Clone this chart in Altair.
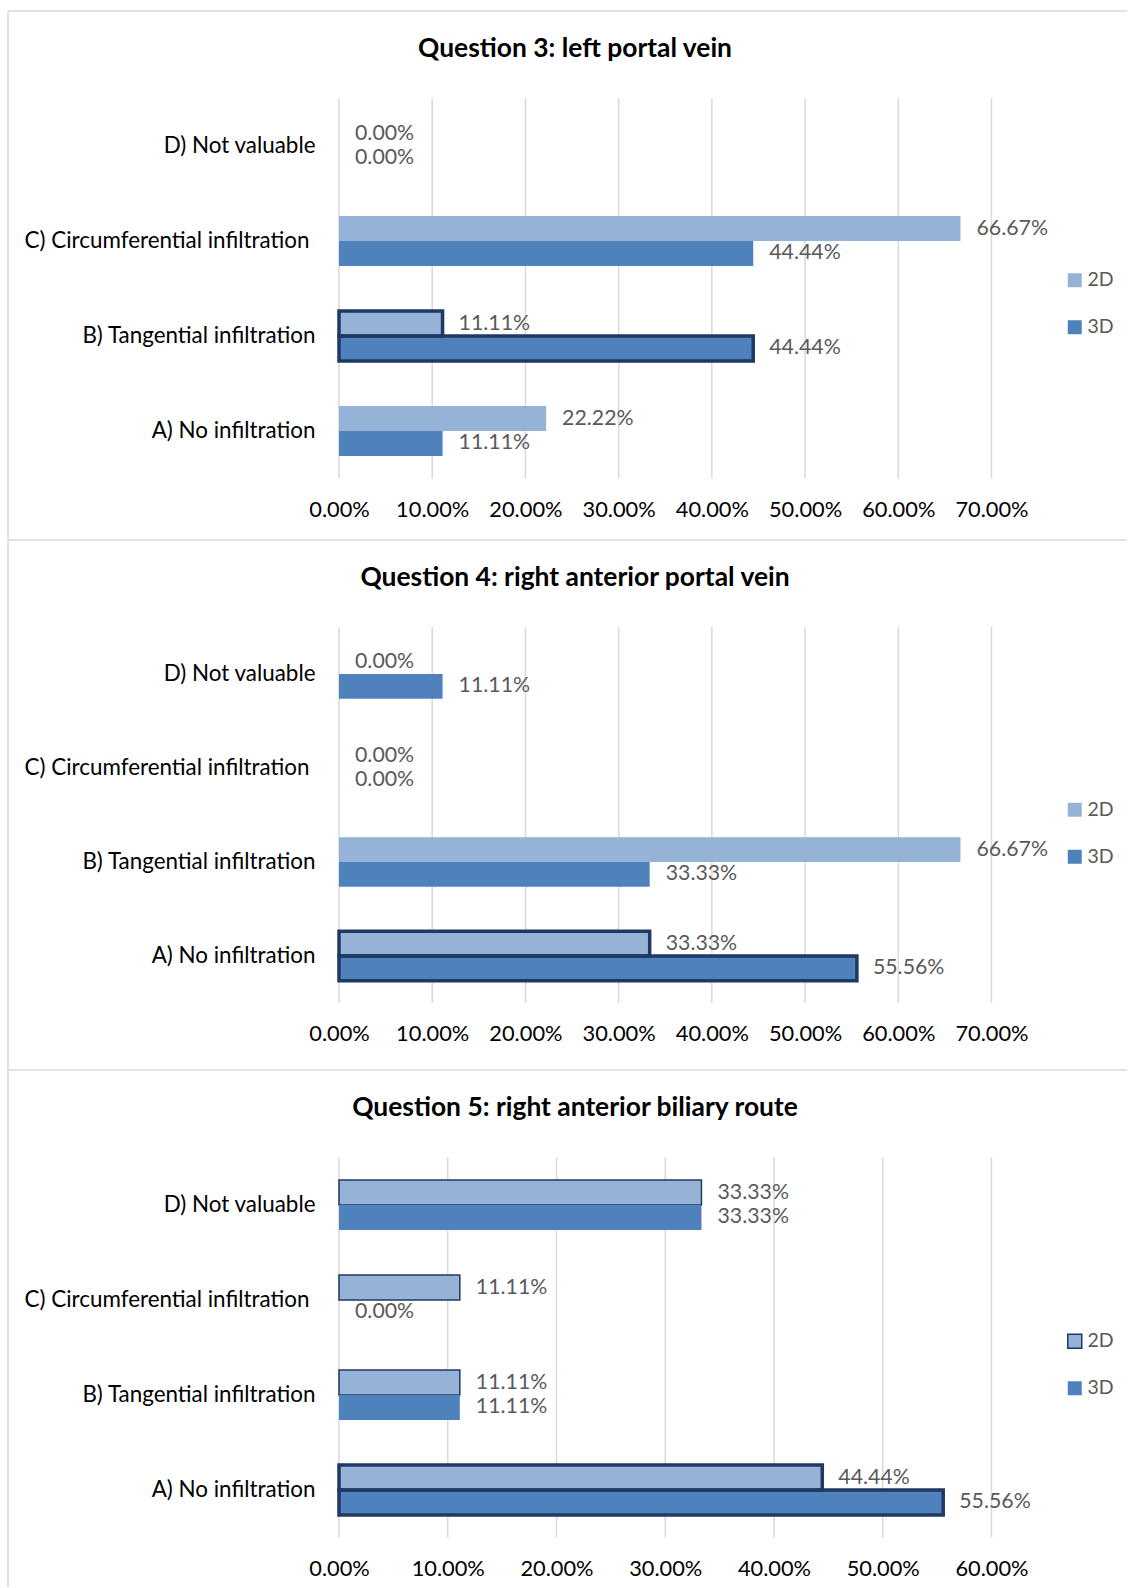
import altair as alt
import pandas as pd

# ---- data -------------------------------------------------------------
CATEGORIES = [
    "D) Not valuable",
    "C) Circumferential infiltration",
    "B) Tangential infiltration",
    "A) No infiltration",
]
SERIES = ["2D", "3D"]

Q3_TITLE = "Question 3: left portal vein"
Q3_2D = [0.0, 0.6667, 0.1111, 0.2222]
Q3_3D = [0.0, 0.4444, 0.4444, 0.1111]
Q3_TICKS = [0.0, 0.1, 0.2, 0.3, 0.4, 0.5, 0.6, 0.7]

Q4_TITLE = "Question 4: right anterior portal vein"
Q4_2D = [0.0, 0.0, 0.6667, 0.3333]
Q4_3D = [0.1111, 0.0, 0.3333, 0.5556]
Q4_TICKS = [0.0, 0.1, 0.2, 0.3, 0.4, 0.5, 0.6, 0.7]

Q5_TITLE = "Question 5: right anterior biliary route"
Q5_2D = [0.3333, 0.1111, 0.1111, 0.4444]
Q5_3D = [0.3333, 0.0, 0.1111, 0.5556]
Q5_TICKS = [0.0, 0.1, 0.2, 0.3, 0.4, 0.5, 0.6]

# ---- style ------------------------------------------------------------
FONT = "Lato"
LIGHT = "#95B3D7"
MID = "#4F81BD"
NAVY = "#1F3864"
GRID = "#D9D9D9"
LABEL_GREY = "#595959"

PANEL_W = 1119
X_RANGE = [331, 983.5]          # pixel span of the value axis inside a panel
AXIS_X = 331                    # where the category axis sits
LONG_LABEL = CATEGORIES[1]      # the widest category label sits a bit further left


def panel(title, v2d, v3d, ticks, highlight, height, y_range, legend_y,
          outlined_2d=False):
    df = pd.DataFrame({
        "category": CATEGORIES * 2,
        "series": [SERIES[0]] * len(CATEGORIES) + [SERIES[1]] * len(CATEGORIES),
        "value": v2d + v3d,
    })

    x = alt.X(
        "value:Q",
        scale=alt.Scale(domain=[0, ticks[-1]], range=X_RANGE, nice=False),
        axis=alt.Axis(
            values=ticks, format=".2%", orient="bottom",
            offset=y_range[1] - height, domain=False, ticks=False, tickSize=0,
            grid=False, labelPadding=30.5, labelBaseline="middle",
            labelFont=FONT, labelFontSize=21.8, labelColor="#000000",
            labelFlush=False, labelOverlap=False, title=None,
        ),
    )
    y = alt.Y(
        "category:N", sort=CATEGORIES,
        scale=alt.Scale(range=y_range, paddingInner=0.474, paddingOuter=0.237),
        axis=alt.Axis(
            orient="left", offset=-AXIS_X, domain=False, ticks=False,
            tickSize=0,
            labelPadding={"condition": {"test": f"datum.value === '{LONG_LABEL}'",
                                        "value": 30},
                          "value": 24},
            labelFont=FONT, labelFontSize=22.4,
            labelColor="#000000", labelLimit=0, title=None,
        ),
    )
    y_off = alt.YOffset("series:N", sort=SERIES, scale=alt.Scale(domain=SERIES))

    legend = alt.Legend(
        title=None, orient="none", legendX=1057, legendY=legend_y,
        direction="vertical", symbolType="square", symbolSize=196,
        symbolStrokeWidth=1.5 if outlined_2d else 0,
        labelFont=FONT, labelFontSize=19.5, labelColor=LABEL_GREY,
        rowPadding=26, labelOffset=3,
    )
    color = alt.Color("series:N", sort=SERIES,
                      scale=alt.Scale(domain=SERIES, range=[LIGHT, MID]),
                      legend=legend)

    # vertical gridlines at each tick
    grid = alt.Chart(pd.DataFrame({"value": ticks})).mark_rule(
        color=GRID, strokeWidth=1.5
    ).encode(x=x, y=alt.value(y_range[0]), y2=alt.value(y_range[1]))

    if outlined_2d:
        bars = alt.Chart(df).mark_bar(strokeWidth=1.5).encode(
            x=x, y=y, yOffset=y_off, color=color,
            stroke=alt.Stroke("series:N", sort=SERIES,
                              scale=alt.Scale(domain=SERIES,
                                              range=[NAVY, "transparent"]),
                              legend=legend),
        )
    else:
        bars = alt.Chart(df).mark_bar().encode(
            x=x, y=y, yOffset=y_off, color=color,
        )

    # heavy outline around the highlighted answer
    outline = alt.Chart(df).transform_filter(
        alt.datum.category == highlight
    ).mark_bar(fill="transparent", stroke=NAVY, strokeWidth=3.5).encode(
        x=x, y=y, yOffset=y_off,
    )

    labels = alt.Chart(df).mark_text(
        align="left", baseline="middle", dx=16, font=FONT, fontSize=21.3,
        color=LABEL_GREY,
    ).encode(
        x=x, y=y, yOffset=y_off,
        text=alt.Text("value:Q", format=".2%"),
    )

    heading = alt.Chart(pd.DataFrame({"title": [title]})).mark_text(
        align="center", baseline="middle", font=FONT, fontSize=26.4,
        fontWeight="bold", color="#000000",
    ).encode(text="title:N", x=alt.value(567), y=alt.value(38))

    # panel frame: top and left edges
    frame_df = pd.DataFrame({"edge": ["frame"]})
    top_edge = alt.Chart(frame_df).mark_rule(color=GRID, strokeWidth=1.5).encode(
        x=alt.value(0), x2=alt.value(PANEL_W), y=alt.value(0))
    left_edge = alt.Chart(frame_df).mark_rule(color=GRID, strokeWidth=1.5).encode(
        x=alt.value(0), y=alt.value(0), y2=alt.value(height))

    return alt.layer(
        top_edge, left_edge, grid, bars, outline, labels, heading
    ).properties(width=PANEL_W, height=height)


p3 = panel(Q3_TITLE, Q3_2D, Q3_3D, Q3_TICKS, "B) Tangential infiltration",
           height=528.5, y_range=[87.5, 467.5], legend_y=259.5)
p4 = panel(Q4_TITLE, Q4_2D, Q4_3D, Q4_TICKS, "A) No infiltration",
           height=530, y_range=[87, 463], legend_y=260)
p5 = panel(Q5_TITLE, Q5_2D, Q5_3D, Q5_TICKS, "A) No infiltration",
           height=517, y_range=[87.5, 467.5], legend_y=261.5, outlined_2d=True)

chart = alt.vconcat(p3, p4, p5, spacing=0, bounds="flush").resolve_scale(
    x="independent", y="independent", yOffset="independent",
    color="independent", stroke="independent",
).resolve_axis(
    x="independent", y="independent",
).resolve_legend(
    color="independent", stroke="independent",
).properties(
    padding={"left": 7, "top": 10, "right": 0, "bottom": 0},
    background="white",
).configure_view(stroke=None)

chart.save("out.html", embed_options={"renderer": "svg", "actions": False})
